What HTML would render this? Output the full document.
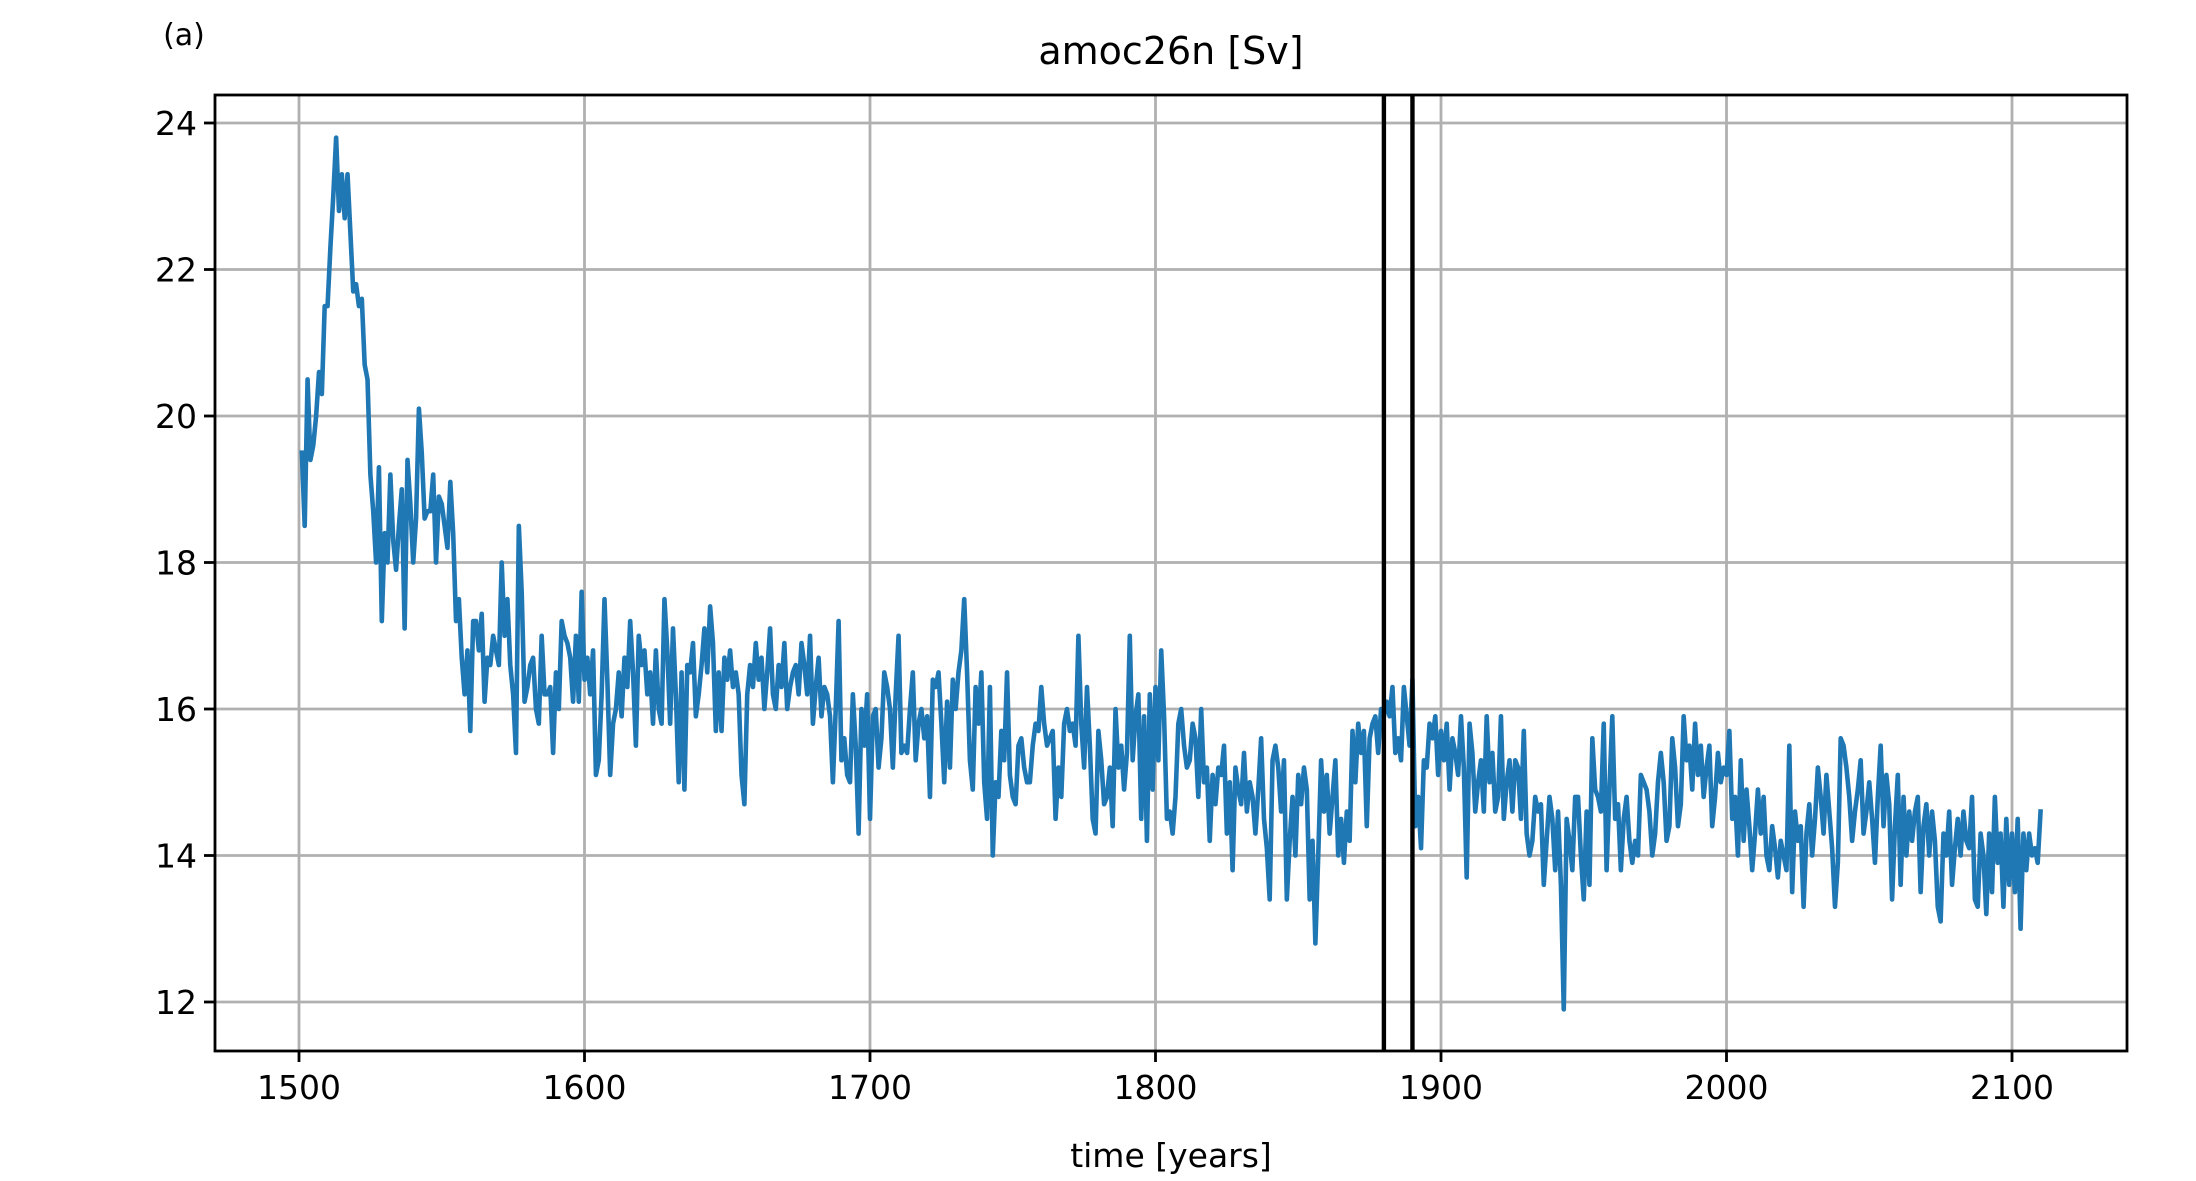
<!DOCTYPE html>
<html><head><meta charset="utf-8">
<style>
html,body{margin:0;padding:0;background:#fff;}
svg{display:block;font-family:"DejaVu Sans","Liberation Sans",sans-serif;}
</style></head>
<body>
<svg id="chart" width="2196" height="1181" viewBox="0 0 2196 1181" xmlns="http://www.w3.org/2000/svg">
<rect x="0" y="0" width="2196" height="1181" fill="#fff"/>
<text x="184" y="45" font-size="30" text-anchor="middle">(a)</text>
<text x="1171" y="64" font-size="38" text-anchor="middle">amoc26n [Sv]</text>
<text x="1171" y="1167" font-size="33" text-anchor="middle">time [years]</text>
<g id="grid"></g>
<g id="series"></g>
<g id="axes"></g>
</svg>
<script>
const startYear = 1501;
const xTicks = [1500, 1600, 1700, 1800, 1900, 2000, 2100];
const yTicks = [12, 14, 16, 18, 20, 22, 24];
const markerYears = [1880, 1890];
const amocValues = [
19.5,18.5,20.5,19.4,19.6,20.0,20.6,20.3,21.5,21.5,
22.3,23.0,23.8,22.8,23.3,22.7,23.3,22.5,21.7,21.8,
21.5,21.6,20.7,20.5,19.2,18.7,18.0,19.3,17.2,18.4,
18.0,19.2,18.3,17.9,18.5,19.0,17.1,19.4,18.8,18.0,
18.6,20.1,19.5,18.6,18.7,18.7,19.2,18.0,18.9,18.8,
18.5,18.2,19.1,18.4,17.2,17.5,16.7,16.2,16.8,15.7,
17.2,17.2,16.8,17.3,16.1,16.7,16.6,17.0,16.8,16.6,
18.0,17.0,17.5,16.6,16.2,15.4,18.5,17.6,16.1,16.3,
16.6,16.7,16.0,15.8,17.0,16.2,16.2,16.3,15.4,16.5,
16.0,17.2,17.0,16.9,16.7,16.1,17.0,16.1,17.6,16.4,
16.7,16.2,16.8,15.1,15.3,16.2,17.5,16.4,15.1,15.8,
16.0,16.5,15.9,16.7,16.3,17.2,16.5,15.5,17.0,16.6,
16.8,16.2,16.5,15.8,16.8,16.0,15.8,17.5,16.8,15.8,
17.1,16.2,15.0,16.5,14.9,16.6,16.5,16.9,15.9,16.2,
16.6,17.1,16.5,17.4,16.9,15.7,16.5,15.7,16.7,16.4,
16.8,16.3,16.5,16.2,15.1,14.7,16.2,16.6,16.3,16.9,
16.4,16.7,16.0,16.5,17.1,16.2,16.0,16.6,16.3,16.9,
16.0,16.3,16.5,16.6,16.2,16.9,16.6,16.2,17.0,15.8,
16.3,16.7,15.9,16.3,16.2,15.9,15.0,16.0,17.2,15.3,
15.6,15.1,15.0,16.2,15.5,14.3,16.0,15.5,16.2,14.5,
15.9,16.0,15.2,15.6,16.5,16.3,16.0,15.2,16.2,17.0,
15.4,15.5,15.4,16.0,16.5,15.3,15.8,16.0,15.6,15.9,
14.8,16.4,16.3,16.5,15.8,15.0,16.1,15.2,16.4,16.0,
16.5,16.8,17.5,16.5,15.3,14.9,16.3,15.8,16.5,15.0,
14.5,16.3,14.0,15.0,14.8,15.7,15.3,16.5,15.1,14.8,
14.7,15.5,15.6,15.2,15.0,15.0,15.5,15.8,15.7,16.3,
15.8,15.5,15.6,15.7,14.5,15.2,14.8,15.8,16.0,15.7,
15.8,15.5,17.0,15.8,15.2,16.3,15.5,14.5,14.3,15.7,
15.3,14.7,14.8,15.2,14.4,16.0,15.2,15.5,14.9,15.4,
17.0,15.3,15.9,16.2,14.5,15.9,14.2,16.2,14.9,16.3,
15.3,16.8,15.9,14.5,14.6,14.3,14.8,15.8,16.0,15.5,
15.2,15.3,15.8,15.6,14.8,16.0,15.0,15.2,14.2,15.1,
14.7,15.2,15.1,15.5,14.3,15.0,13.8,15.2,14.9,14.7,
15.4,14.6,15.0,14.8,14.3,14.9,15.6,14.5,14.1,13.4,
15.3,15.5,15.2,14.6,15.3,13.4,14.2,14.8,14.0,15.1,
14.7,15.2,14.9,13.4,14.2,12.8,14.0,15.3,14.6,15.1,
14.3,14.8,15.3,14.0,14.5,13.9,14.6,14.2,15.7,15.0,
15.8,15.4,15.7,14.4,15.6,15.8,15.9,15.4,16.0,15.9,
16.1,15.9,16.3,15.4,15.6,15.3,16.3,15.9,15.5,16.4,
14.4,14.8,14.1,15.3,15.2,15.8,15.6,15.9,15.1,15.7,
15.3,15.8,14.9,15.6,15.4,15.1,15.9,15.2,13.7,15.8,
15.4,14.6,15.0,15.3,14.6,15.9,15.0,15.4,14.6,14.8,
15.9,14.5,15.0,15.3,14.6,15.3,15.2,14.5,15.7,14.3,
14.0,14.2,14.8,14.6,14.7,13.6,14.2,14.8,14.5,13.8,
14.6,13.6,11.9,14.5,14.2,13.8,14.8,14.8,14.0,13.4,
14.6,13.6,15.6,14.9,14.8,14.6,15.8,13.8,14.9,15.9,
14.5,14.7,13.8,14.5,14.8,14.2,13.9,14.2,14.0,15.1,
15.0,14.9,14.6,14.0,14.3,15.0,15.4,15.0,14.2,14.4,
15.6,15.2,14.4,14.7,15.9,15.3,15.5,14.9,15.8,15.1,
15.5,14.8,15.2,15.5,14.4,14.8,15.4,15.0,15.2,15.1,
15.7,14.5,14.8,14.0,15.3,14.2,14.9,14.4,13.8,14.3,
14.9,14.3,14.8,14.0,13.8,14.4,14.1,13.7,14.2,14.0,
13.8,15.5,13.5,14.6,14.2,14.4,13.3,14.3,14.7,14.0,
14.5,15.2,14.8,14.3,15.1,14.6,14.1,13.3,13.9,15.6,
15.5,15.2,14.8,14.2,14.6,14.9,15.3,14.3,14.6,15.0,
14.5,13.9,14.8,15.5,14.4,15.1,14.7,13.4,14.4,15.1,
13.6,14.8,14.0,14.6,14.2,14.6,14.8,13.5,14.4,14.7,
14.0,14.6,14.2,13.3,13.1,14.3,14.0,14.6,13.6,14.1,
14.5,14.0,14.6,14.2,14.1,14.8,13.4,13.3,14.3,14.0,
13.2,14.3,13.5,14.8,13.9,14.3,13.3,14.5,13.6,14.3,
13.5,14.5,13.0,14.3,13.8,14.3,14.0,14.1,13.9,14.6
];

const NS = "http://www.w3.org/2000/svg";
const plot = {left: 215, right: 2127, top: 95, bottom: 1051};
function xScale(v){ return 299 + (v - 1500) * (2012 - 299) / 600; }
function yScale(v){ return 1002 - (v - 12) * (1002 - 123) / 12; }
function mk(tag, attrs, parent){
  const el = document.createElementNS(NS, tag);
  for (const k in attrs) el.setAttribute(k, attrs[k]);
  parent.appendChild(el);
  return el;
}
const grid = document.getElementById('grid');
const axes = document.getElementById('axes');
const series = document.getElementById('series');

xTicks.forEach(t => {
  const x = xScale(t);
  const g = mk('line', {x1:x, x2:x, y1:plot.top, y2:plot.bottom, stroke:'#b0b0b0', 'stroke-width':2.8}, grid);
  
  
  const tk = mk('line', {x1:x, x2:x, y1:plot.bottom, y2:plot.bottom + 11, stroke:'#000', 'stroke-width':2.8}, axes);
  
  
  const lb = mk('text', {x:x, y:plot.bottom + 48, 'font-size':33, 'text-anchor':'middle'}, axes);
  lb.textContent = String(t);
  
  
});
yTicks.forEach(t => {
  const y = yScale(t);
  const g = mk('line', {x1:plot.left, x2:plot.right, y1:y, y2:y, stroke:'#b0b0b0', 'stroke-width':2.8}, grid);
  
  
  const tk = mk('line', {x1:plot.left - 11, x2:plot.left, y1:y, y2:y, stroke:'#000', 'stroke-width':2.8}, axes);
  
  
  const lb = mk('text', {x:plot.left - 18, y:y + 12, 'font-size':33, 'text-anchor':'end'}, axes);
  lb.textContent = String(t);
  
  
});

const pts = amocValues.map((v, i) => xScale(startYear + i).toFixed(2) + ',' + yScale(v).toFixed(2)).join(' ');
const line = mk('polyline', {points:pts, fill:'none', stroke:'#1f77b4', 'stroke-width':4.6, 'stroke-linejoin':'round', 'stroke-linecap':'square'}, series);



markerYears.forEach(yr => {
  const x = xScale(yr);
  const m = mk('line', {x1:x, x2:x, y1:plot.top, y2:plot.bottom, stroke:'#000', 'stroke-width':4.4}, series);
  
  
});

const frame = mk('rect', {x:plot.left, y:plot.top, width:plot.right - plot.left, height:plot.bottom - plot.top, fill:'none', stroke:'#000', 'stroke-width':2.8}, axes);


</script>
</body></html>
